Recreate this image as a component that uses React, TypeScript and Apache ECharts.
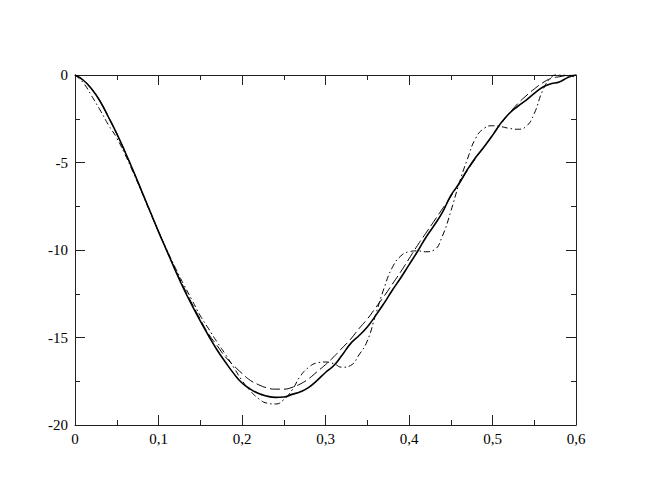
import React, { useEffect, useRef } from "react";
import * as echarts from "echarts";

const xTicksMax = 0.6;
const yTicksMin = -20;

const solidX = [0, 0.01, 0.02, 0.03, 0.04, 0.05, 0.06, 0.07, 0.08, 0.09, 0.1, 0.11, 0.12, 0.13, 0.14, 0.15, 0.16, 0.17, 0.18, 0.19, 0.2, 0.21, 0.22, 0.23, 0.24, 0.25, 0.26, 0.27, 0.28, 0.29, 0.3, 0.31, 0.32, 0.33, 0.34, 0.35, 0.36, 0.37, 0.38, 0.39, 0.4, 0.41, 0.42, 0.43, 0.44, 0.45, 0.46, 0.47, 0.48, 0.49, 0.5, 0.51, 0.52, 0.53, 0.54, 0.55, 0.56, 0.57, 0.58, 0.59, 0.6];
const solidY = [0, -0.3, -0.8, -1.5, -2.4, -3.35, -4.4, -5.5, -6.65, -7.8, -8.95, -10.05, -11.15, -12.2, -13.15, -14.05, -14.9, -15.7, -16.4, -17.05, -17.6, -17.95, -18.2, -18.35, -18.42, -18.4, -18.25, -18.1, -17.85, -17.45, -17.0, -16.6, -16.0, -15.35, -14.9, -14.4, -13.75, -13.05, -12.3, -11.6, -10.85, -10.1, -9.3, -8.6, -7.85, -6.9, -6.2, -5.4, -4.7, -4.1, -3.45, -2.75, -2.2, -1.8, -1.45, -1.05, -0.7, -0.5, -0.4, -0.15, 0];

const dashedX = solidX;
const dashedY = [0, -0.3, -0.8, -1.5, -2.4, -3.35, -4.4, -5.5, -6.65, -7.8, -8.95, -10.05, -11.1, -12.1, -13.05, -13.95, -14.8, -15.45, -16.1, -16.6, -17.05, -17.45, -17.7, -17.88, -17.95, -17.95, -17.85, -17.65, -17.35, -16.95, -16.55, -16.1, -15.6, -15.1, -14.5, -13.95, -13.3, -12.65, -11.95, -11.25, -10.5, -9.75, -9.05, -8.35, -7.65, -6.95, -6.2, -5.45, -4.75, -4.1, -3.45, -2.8, -2.2, -1.65, -1.2, -0.8, -0.45, -0.2, -0.1, -0.03, 0];

const dashDotX = solidX;
const dashDotY = [0, -0.45, -1.2, -2.0, -2.85, -3.6, -4.55, -5.6, -6.7, -7.85, -8.95, -10.0, -11.0, -11.95, -12.85, -13.75, -14.5, -15.25, -15.95, -16.7, -17.45, -18.05, -18.5, -18.75, -18.8, -18.55, -18.0, -17.2, -16.7, -16.45, -16.4, -16.5, -16.7, -16.6, -16.0, -15.2, -13.7, -12.2, -11.0, -10.35, -10.1, -10.05, -10.1, -10.0, -9.2, -7.8, -6.2, -4.8, -3.6, -3.05, -2.9, -2.95, -3.05, -3.1, -2.95, -2.2, -0.9, -0.15, 0.05, -0.05, -0.1];

const pairs = (xs: number[], ys: number[]) => xs.map((x, i) => [x, ys[i]]);
const fmt = (v: number) => String(Math.round(v * 10) / 10).replace(".", ",");

export default function App() {
  const ref = useRef<HTMLDivElement>(null);
  useEffect(() => {
    document.body.style.margin = "0";
    const chart = echarts.init(ref.current!, null, { renderer: "svg" });
    const axisLine = { show: true, onZero: false, lineStyle: { color: "#222", width: 1 } };
    const tick = { show: true, inside: true, length: 10, lineStyle: { color: "#222" } };
    const minor = { show: true, splitNumber: 2, length: 5, lineStyle: { color: "#222" } };
    const label = { fontFamily: "'Liberation Serif', 'Times New Roman', serif", fontSize: 15, color: "#000" };
    const base = { type: "value", splitLine: { show: false }, minorSplitLine: { show: false } };
    chart.setOption({
      animation: false,
      backgroundColor: "#fff",
      grid: { left: 75, top: 75, width: 501, height: 350, containLabel: false },
      xAxis: [
        { ...base, min: 0, max: xTicksMax, interval: 0.1, position: "bottom", axisLine, axisTick: tick, minorTick: minor, axisLabel: { ...label, margin: 6, formatter: fmt } },
        { ...base, min: 0, max: xTicksMax, interval: 0.1, position: "top", axisLine, axisTick: tick, minorTick: minor, axisLabel: { show: false } },
      ],
      yAxis: [
        { ...base, min: yTicksMin, max: 0, interval: 5, position: "left", axisLine, axisTick: tick, minorTick: minor, axisLabel: { ...label, margin: 7, formatter: fmt } },
        { ...base, min: yTicksMin, max: 0, interval: 5, position: "right", axisLine, axisTick: tick, minorTick: minor, axisLabel: { show: false } },
      ],
      series: [
        { type: "line", data: pairs(dashedX, dashedY), smooth: true, symbol: "none", lineStyle: { color: "#000", width: 1, type: [10, 4] } },
        { type: "line", data: pairs(dashDotX, dashDotY), smooth: true, symbol: "none", lineStyle: { color: "#000", width: 1, type: [6, 3, 1.5, 3] } },
        { type: "line", data: pairs(solidX, solidY), smooth: true, symbol: "none", lineStyle: { color: "#000", width: 1.6 } },
      ],
    });
    return () => chart.dispose();
  }, []);
  return <div ref={ref} style={{ width: 648, height: 501 }} />;
}
